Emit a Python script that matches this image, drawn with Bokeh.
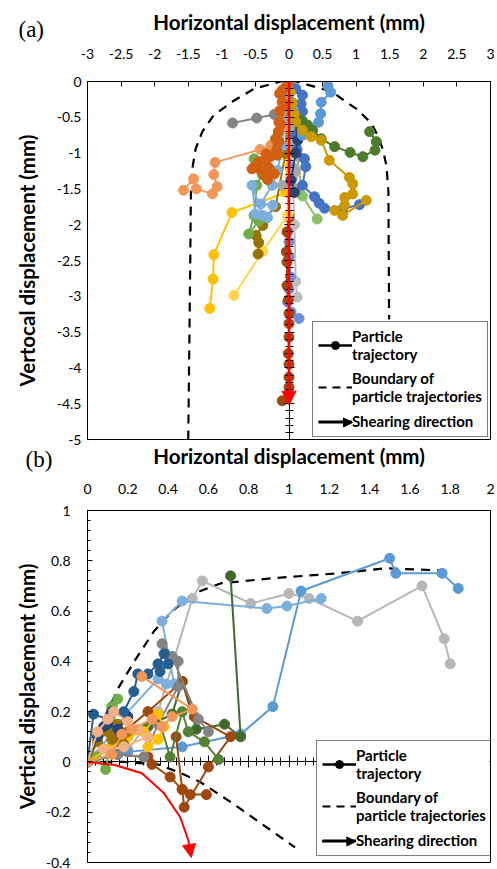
from bokeh.plotting import figure
from bokeh.models import (LinearAxis, FixedTicker, SingleIntervalTicker, Legend, LegendItem,
                          Arrow, NormalHead, Title, Range1d, CustomJSTickFormatter)
from bokeh.layouts import column
from bokeh.embed import file_html
from bokeh.resources import INLINE

FONT = "Lato"
NAN = float("nan")

# ---------------- Panel (a) data ----------------
a_xticks = [-3, -2.5, -2, -1.5, -1, -0.5, 0, 0.5, 1, 1.5, 2, 2.5, 3]
a_xtick_labels = ["-3", "-2.5", "-2", "-1.5", "-1", "-0.5", "0", "0.5", "1", "1.5", "2", "2.5", "3"]
a_yticks = [0, -0.5, -1, -1.5, -2, -2.5, -3, -3.5, -4, -4.5, -5]
a_ytick_labels = ["0", "-0.5", "-1", "-1.5", "-2", "-2.5", "-3", "-3.5", "-4", "-4.5", "-5"]

a_bound_x = [-1.5, -1.47, -1.46, -1.44, -1.39, -1.29, -1.12, -0.84, -0.52, 0, 0.63, 1.03, 1.23, 1.33, 1.4, 1.45, 1.48, 1.49, 1.5]
a_bound_y = [-5, -2.5, -1.49, -1.22, -0.94, -0.7, -0.47, -0.28, -0.1, 0.03, -0.14, -0.4, -0.59, -0.77, -0.96, -1.17, -1.54, -3.24, -5]

a_gray_x = [0, -0.03, -0.06, -0.22, -0.48, -0.84]
a_gray_y = [0, -0.22, -0.42, -0.46, -0.51, -0.58]
a_lorange_x = [0, -0.08, -0.27, -0.43, -1.1, -1.12, -1.07, -1.14, -1.38, -1.42, -1.57]
a_lorange_y = [0, -0.65, -0.89, -0.95, -1.13, -1.3, -1.47, -1.57, -1.5, -1.36, -1.52]
a_orange_x = [0, -0.05, -0.14, -0.1, -0.14, -0.15, -0.16, -0.15, -0.18, -0.34, -0.17, -0.34, -0.52, -0.44, -0.22, -0.37, -0.32]
a_orange_y = [0, -0.08, -0.17, -0.29, -0.41, -0.57, -0.7, -0.84, -0.95, -1.01, -1.03, -1.1, -1.2, -1.22, -1.29, -1.31, -1.37]
a_orange2_x = [0, -0.1, -0.08, -0.12, -0.2, -0.28, -0.45, -0.55, -0.3]
a_orange2_y = [0, -0.12, -0.35, -0.6, -0.8, -1.05, -1.12, -1.22, -1.2]
a_blue_x = [0, 0.1, 0.2, 0.18, 0.2, 0.15, 0.1, 0.12, 0.23, 0.25, 0.2, 0.38, 0.45, 0.53, 0.8, 1.05]
a_blue_y = [0, -0.1, -0.19, -0.31, -0.42, -0.55, -0.75, -0.95, -1.08, -1.19, -1.45, -1.61, -1.7, -1.77, -1.78, -1.72]
a_lblue_x = [0, 0.05, 0.2, 0.35, 0.44, 0.47, 0.48, 0.62, 0.58]
a_lblue_y = [0, -0.4, -0.75, -0.68, -0.57, -0.45, -0.29, -0.15, -0.06]
a_dgreen_x = [0, 0.05, 0.1, 0.2, 0.28, 0.35, 0.48, 0.68, 0.91, 1.1, 1.28, 1.3, 1.2]
a_dgreen_y = [0, -0.3, -0.48, -0.55, -0.61, -0.68, -0.8, -0.91, -0.99, -1.05, -0.96, -0.84, -0.7]
a_dgold_x = [0, 0.02, 0.05, 0.08, 0.1, 0.2, 0.33, 0.48, 0.6, 0.9, 0.95, 0.95, 0.83, 0.83, 0.68, 0.8, 1.15]
a_dgold_y = [0, -0.15, -0.3, -0.45, -0.56, -0.68, -0.77, -0.82, -1.1, -1.34, -1.43, -1.57, -1.62, -1.73, -1.8, -1.87, -1.66]
a_yellow_x = [0, -0.02, -0.05, -0.85, -1.12, -1.13, -1.18]
a_yellow_y = [0, -0.9, -1.55, -1.83, -2.42, -2.76, -3.17]
a_lyellow_x = [0, 0.0, -0.02, -0.39, -0.82]
a_lyellow_y = [0, -1.0, -1.87, -2.37, -2.99]
a_olive_x = [0, -0.05, -0.2, -0.35, -0.39, -0.49, -0.45, -0.46]
a_olive_y = [0, -1.0, -1.75, -1.9, -2.01, -2.15, -2.25, -2.41]
a_green_x = [0, -0.05, -0.2, -0.52, -0.4, -0.48, -0.52, -0.6, -0.45]
a_green_y = [0, -0.6, -1.0, -1.08, -1.3, -1.45, -1.87, -2.13, -1.95]
a_lgreen_x = [0, 0.04, 0.08, 0.1, 0.2, 0.42]
a_lgreen_y = [0, -0.5, -0.7, -0.9, -1.6, -1.92]
a_brown_x = [0, 0.0, 0.0, -0.03, -0.04, -0.03, -0.03, -0.01, 0.0, 0.0, 0.0, -0.01, 0.0, 0.0, 0.0, -0.1]
a_brown_y = [0, -1.0, -1.9, -2.1, -2.38, -2.52, -2.85, -3.05, -3.24, -3.38, -3.57, -3.8, -3.95, -4.13, -4.27, -4.46]
a_peri_x = [0, 0.02, -0.02, 0.0, 0.0, 0.02, 0.0, -0.02, 0.03, 0.15]
a_peri_y = [0, -1.2, -2.1, -2.24, -2.45, -2.73, -2.9, -3.08, -3.22, -3.31]
a_lgray_x = [0, 0.05, 0.08, 0.1, 0.12]
a_lgray_y = [0, -1.2, -2.0, -2.79, -3.01]
a_sky_x = [0, -0.05, -0.1, -0.17, -0.25, -0.42, -0.24, -0.32, -0.39, -0.55, -0.5]
a_sky_y = [0, -0.5, -0.9, -1.24, -1.45, -1.71, -1.73, -1.9, -1.87, -1.45, -1.85]
a_mgray_x = [0, 0.02, 0.1, 0.15, 0.1, 0.05, -0.1, 0.1]
a_mgray_y = [0, -0.6, -0.9, -1.05, -1.25, -1.35, -1.45, -1.5]
a_navy_x = [0, 0.05, 0.13, 0.1, 0.03, 0.08]
a_navy_y = [0, -0.3, -0.82, -1.0, -1.38, -1.55]

a_shear_x = [0, 0]
a_shear_y = [0, -4.52]

# ---------------- Panel (b) data ----------------
b_xticks = [0, 0.2, 0.4, 0.6, 0.8, 1, 1.2, 1.4, 1.6, 1.8, 2]
b_xtick_labels = ["0", "0.2", "0.4", "0.6", "0.8", "1", "1.2", "1.4", "1.6", "1.8", "2"]
b_yticks = [1, 0.8, 0.6, 0.4, 0.2, 0, -0.2, -0.4]
b_ytick_labels = ["1", "0.8", "0.6", "0.4", "0.2", "0", "-0.2", "-0.4"]

b_bound_up_x = [0, 0.07, 0.15, 0.24, 0.33, 0.42, 0.53, 0.66, 0.91, 1.24, 1.48, 1.81]
b_bound_up_y = [0, 0.15, 0.29, 0.41, 0.52, 0.60, 0.67, 0.71, 0.73, 0.75, 0.77, 0.76]
b_bound_lo_x = [0, 0.18, 0.35, 0.45, 0.56, 0.73, 1.03]
b_bound_lo_y = [0, 0.0, -0.01, -0.04, -0.08, -0.17, -0.34]

b_lblue1_x = [0, 0.12, 0.19, 0.35, 0.39, 0.43, 0.37, 0.47, 0.89, 0.99, 1.16]
b_lblue1_y = [0, 0.11, 0.19, 0.33, 0.31, 0.31, 0.56, 0.64, 0.61, 0.62, 0.65]
b_lblue2_x = [0, 0.2, 0.47, 0.76, 0.92, 1.06, 1.5, 1.53, 1.76, 1.84]
b_lblue2_y = [0, 0.04, 0.06, 0.11, 0.22, 0.68, 0.81, 0.75, 0.75, 0.69]
b_gray_x = [0, 0.2, 0.35, 0.43, 0.52, 0.57, 0.81, 1.0, 1.1, 1.34, 1.66, 1.77, 1.8]
b_gray_y = [0, 0.05, 0.2, 0.41, 0.65, 0.72, 0.63, 0.67, 0.65, 0.56, 0.70, 0.49, 0.39]
b_dgreen1_x = [0, 0.15, 0.3, 0.42, 0.47, 0.54, 0.68, 0.76, 0.71]
b_dgreen1_y = [0, 0.08, 0.14, 0.19, 0.32, 0.13, 0.15, 0.10, 0.74]
b_dgreen2_x = [0, 0.2, 0.35, 0.41, 0.47, 0.5, 0.58, 0.65]
b_dgreen2_y = [0, 0.1, 0.18, 0.02, 0.2, 0.12, 0.08, 0.01]
b_brown1_x = [0, 0.15, 0.3, 0.47, 0.53, 0.71, 0.6, 0.48, 0.47, 0.51, 0.59]
b_brown1_y = [0, 0.1, 0.2, 0.32, 0.18, 0.1, -0.02, -0.18, -0.11, -0.13, -0.13]
b_brown2_x = [0, 0.15, 0.3, 0.32, 0.41, 0.47, 0.44]
b_brown2_y = [0, 0.03, 0.02, -0.01, -0.06, -0.11, 0.1]
b_dblue_x = [0, 0.03, 0.1, 0.18, 0.23, 0.25, 0.3, 0.35, 0.38, 0.4, 0.36]
b_dblue_y = [0, 0.19, 0.17, 0.2, 0.28, 0.35, 0.35, 0.39, 0.43, 0.39, 0.36]
b_lorange_x = [0, 0.12, 0.17, 0.22, 0.32, 0.37, 0.42, 0.52, 0.27]
b_lorange_y = [0, 0.03, 0.11, 0.13, 0.17, 0.14, 0.18, 0.21, 0.34]
b_orange_x = [0, 0.05, 0.1, 0.13, 0.2, 0.25, 0.3, 0.18, 0.08]
b_orange_y = [0, 0.12, 0.17, 0.2, 0.16, 0.13, 0.1, 0.06, 0.05]
b_gold_x = [0, 0.1, 0.2, 0.28, 0.35, 0.38, 0.35, 0.3]
b_gold_y = [0, 0.05, 0.1, 0.12, 0.19, 0.14, 0.09, 0.06]
b_olive_x = [0, 0.05, 0.1, 0.15, 0.2, 0.18, 0.12]
b_olive_y = [0, 0.08, 0.12, 0.15, 0.12, 0.07, 0.09]
b_green_x = [0, 0.05, 0.1, 0.12, 0.15, 0.09, 0.04]
b_green_y = [0, 0.1, 0.15, 0.22, 0.25, -0.03, 0.02]
b_dgray_x = [0, 0.15, 0.28, 0.35, 0.45, 0.45, 0.37, 0.42, 0.55, 0.6]
b_dgray_y = [0, 0.03, 0.02, 0.15, 0.3, 0.4, 0.47, 0.42, 0.17, 0.12]
b_navy_x = [0, 0.05, 0.1, 0.15, 0.2, 0.12, 0.08]
b_navy_y = [0, 0.1, 0.15, 0.13, 0.18, 0.2, 0.14]

b_shear_x = [0, 0.135, 0.27, 0.38, 0.46, 0.5, 0.515]
b_shear_y = [0, -0.012, -0.045, -0.125, -0.22, -0.31, -0.38]

legend_labels = ["Particle\ntrajectory", "Boundary of\nparticle trajectories", "Shearing direction"]
x_title = "Horizontal displacement (mm)"

# ---------------- styles (kept apart from data) ----------------
a_series = [
    (a_lgray_x, a_lgray_y, "#BDBDBD"), (a_peri_x, a_peri_y, "#6F8FD6"), (a_brown_x, a_brown_y, "#9E480E"),
    (a_lyellow_x, a_lyellow_y, "#FFD54F"), (a_yellow_x, a_yellow_y, "#FFC000"), (a_olive_x, a_olive_y, "#997300"),
    (a_green_x, a_green_y, "#70AD47"), (a_lgreen_x, a_lgreen_y, "#8CC168"), (a_sky_x, a_sky_y, "#7CAFDD"),
    (a_mgray_x, a_mgray_y, "#A5A5A5"), (a_blue_x, a_blue_y, "#4472C4"), (a_navy_x, a_navy_y, "#264478"),
    (a_lblue_x, a_lblue_y, "#5B9BD5"), (a_dgreen_x, a_dgreen_y, "#4E7A2E"), (a_dgold_x, a_dgold_y, "#CC9A00"),
    (a_gray_x, a_gray_y, "#848484"), (a_lorange_x, a_lorange_y, "#F1975A"), (a_orange2_x, a_orange2_y, "#D26012"),
    (a_orange_x, a_orange_y, "#D26012"),
]
b_series = [
    (b_gray_x, b_gray_y, "#B7B7B7"), (b_lblue2_x, b_lblue2_y, "#5B9BD5"), (b_lblue1_x, b_lblue1_y, "#7CAFDD"),
    (b_dgreen1_x, b_dgreen1_y, "#43682B"), (b_brown1_x, b_brown1_y, "#9E480E"), (b_brown2_x, b_brown2_y, "#9E480E"),
    (b_dgray_x, b_dgray_y, "#848484"), (b_dgreen2_x, b_dgreen2_y, "#548235"), (b_green_x, b_green_y, "#70AD47"),
    (b_gold_x, b_gold_y, "#FFC000"), (b_olive_x, b_olive_y, "#997300"), (b_navy_x, b_navy_y, "#264478"),
    (b_dblue_x, b_dblue_y, "#255E91"), (b_orange_x, b_orange_y, "#F4B183"), (b_lorange_x, b_lorange_y, "#F1975A"),
]

LEG_PAD = 5
LEG_GLYPH_W = 34
LEG_W = 174
LEG_H = 118


def base_style(p):
    p.outline_line_color = "black"
    p.outline_line_width = 1
    p.outline_line_alpha = 1
    p.xgrid.visible = False
    p.ygrid.visible = False
    p.background_fill_color = "white"
    p.border_fill_color = "white"


def style_title_text(ax, label, label_standoff):
    ax.axis_label = label
    ax.axis_label_text_font = FONT
    ax.axis_label_text_font_style = "bold"
    ax.axis_label_text_font_size = "20.5px"
    ax.axis_label_text_color = "black"
    ax.axis_label_standoff = label_standoff


def style_axis(ax, label, ticks, labels, tick_in, standoff, label_standoff):
    ax.ticker = FixedTicker(ticks=ticks)
    ax.major_label_overrides = {t: s for t, s in zip(ticks, labels)}
    if label:
        style_title_text(ax, label, label_standoff)
    else:
        ax.axis_label = None
    ax.major_label_text_font = FONT
    ax.major_label_text_font_size = "14px"
    ax.major_label_text_color = "black"
    ax.major_label_standoff = standoff
    ax.major_tick_in = tick_in
    ax.major_tick_out = 0
    ax.minor_tick_in = 0
    ax.minor_tick_out = 0
    ax.axis_line_color = "black"
    ax.major_tick_line_color = "black"


def add_legend(p, loc, frame_w, frame_h):
    xr, yr = p.x_range, p.y_range
    to_x = lambda px: xr.start + (xr.end - xr.start) * px / frame_w
    to_y = lambda py_: yr.start + (yr.end - yr.start) * py_ / frame_h
    # white backing of the legend box (drawn above the trajectories)
    p.quad(left=[to_x(loc[0] + 1)], right=[to_x(loc[0] + LEG_W)],
           bottom=[to_y(loc[1] + 1)], top=[to_y(loc[1] + LEG_H)],
           fill_color="white", line_alpha=0)
    r1 = p.line([NAN], [NAN], line_color="black", line_width=2.5)
    r1b = p.scatter([NAN], [NAN], size=10, color="black")
    r2 = p.line([NAN], [NAN], line_color="black", line_width=2, line_dash="8 6")
    r3 = p.line([NAN], [NAN], line_color="black", line_width=2)
    leg = Legend(items=[LegendItem(label=legend_labels[0], renderers=[r1, r1b]),
                        LegendItem(label=legend_labels[1], renderers=[r2]),
                        LegendItem(label=legend_labels[2], renderers=[r3])],
                 location=loc)
    leg.label_text_font = FONT
    leg.label_text_font_style = "bold"
    leg.label_text_font_size = "15px"
    leg.label_text_color = "black"
    leg.label_standoff = 0
    leg.glyph_width = LEG_GLYPH_W
    leg.glyph_height = 20
    leg.spacing = 6
    leg.padding = LEG_PAD
    leg.margin = 0
    leg.border_line_color = "black"
    leg.border_line_width = 1
    leg.background_fill_alpha = 0
    leg.label_text_line_height = 1.3
    p.add_layout(leg)
    # arrowhead for the "Shearing direction" entry, converted from legend pixels to data units
    px0 = loc[0] + LEG_PAD + 1
    px1 = loc[0] + LEG_PAD + LEG_GLYPH_W + 1
    py = loc[1] + LEG_PAD + 10
    p.add_layout(Arrow(end=NormalHead(size=9, fill_color="black", line_color="black"),
                       x_start=to_x(px0), y_start=to_y(py), x_end=to_x(px1), y_end=to_y(py),
                       line_color="black", line_width=2))


# ---------------- Panel (a) ----------------
p1 = figure(width=497, height=476, x_range=Range1d(-3, 3), y_range=Range1d(-5, 0),
            x_axis_location="above", output_backend="svg", toolbar_location=None,
            min_border_left=87, min_border_right=7, min_border_top=81, min_border_bottom=37)
base_style(p1)
p1.title = Title(text="(a)", align="left", offset=-69, standoff=-70, vertical_align="bottom",
                 text_font="Liberation Serif", text_font_size="23px", text_font_style="normal",
                 text_color="black")
style_axis(p1.xaxis[0], x_title, a_xticks, a_xtick_labels, 5, 23, 12)
style_axis(p1.yaxis[0], "Vertocal displacement (mm)", a_yticks, a_ytick_labels, 0, 6, 15)

cax1 = LinearAxis(fixed_location=0, ticker=SingleIntervalTicker(interval=0.5, num_minor_ticks=5),
                  formatter=CustomJSTickFormatter(code="return ''"),
                  major_tick_in=5, major_tick_out=5, minor_tick_in=4, minor_tick_out=4,
                  major_label_standoff=0, axis_line_color="black")
p1.add_layout(cax1, "left")

# title row of panel (b), carried by an empty axis under panel (a)
bx_title_axis = LinearAxis(ticker=FixedTicker(ticks=[]), major_label_standoff=0,
                           major_tick_in=0, major_tick_out=0, minor_tick_in=0, minor_tick_out=0,
                           axis_line_alpha=0)
style_title_text(bx_title_axis, x_title, 4)
p1.add_layout(bx_title_axis, "below")
p1.add_layout(Title(text="(b)", align="left", offset=-62, standoff=-47, vertical_align="top",
                    text_font="Liberation Serif", text_font_size="23px", text_font_style="normal",
                    text_color="black"), "below")

p1.line(a_bound_x, a_bound_y, line_color="black", line_width=2.2, line_dash="9 7")
for xs, ys, c in a_series:
    p1.line(xs, ys, line_color=c, line_width=2)
    p1.scatter(xs, ys, size=10, color=c)

add_legend(p1, (225, 2), 403, 358)
p1.add_layout(Arrow(end=NormalHead(size=14, fill_color="red", line_color="red"),
                    x_start=a_shear_x[0], y_start=a_shear_y[0], x_end=a_shear_x[1], y_end=a_shear_y[1],
                    line_color="red", line_width=2.5))

# ---------------- Panel (b) ----------------
p2 = figure(width=497, height=393, x_range=Range1d(0, 2), y_range=Range1d(-0.4, 1),
            x_axis_location="above", output_backend="svg", toolbar_location=None,
            min_border_left=86, min_border_right=7, min_border_top=34, min_border_bottom=7)
base_style(p2)
style_axis(p2.xaxis[0], None, b_xticks, b_xtick_labels, 0, 17, 0)
style_axis(p2.yaxis[0], "Vertical displacement (mm)", b_yticks, b_ytick_labels, 5, 17, 4)
p2.yaxis[0].ticker = FixedTicker(ticks=b_yticks, minor_ticks=[round(-0.4 + 0.04 * i, 2) for i in range(36)])
p2.yaxis[0].minor_tick_in = 3

cax2 = LinearAxis(fixed_location=0, ticker=SingleIntervalTicker(interval=0.2, num_minor_ticks=5),
                  formatter=CustomJSTickFormatter(code="return ''"),
                  major_tick_in=6, major_tick_out=6, minor_tick_in=4, minor_tick_out=4,
                  major_label_standoff=0, axis_line_color="black", level="underlay")
p2.add_layout(cax2, "below")

p2.line(b_bound_up_x, b_bound_up_y, line_color="black", line_width=2.2, line_dash="9 7")
p2.line(b_bound_lo_x, b_bound_lo_y, line_color="black", line_width=2.2, line_dash="9 7")
for xs, ys, c in b_series:
    p2.line(xs, ys, line_color=c, line_width=2)
    p2.scatter(xs, ys, size=10, color=c)

p2.line(b_shear_x[:-1], b_shear_y[:-1], line_color="red", line_width=2)
add_legend(p2, (229, 6), 404, 352)
p2.add_layout(Arrow(end=NormalHead(size=13, fill_color="red", line_color="red"),
                    x_start=b_shear_x[-2], y_start=b_shear_y[-2], x_end=b_shear_x[-1], y_end=b_shear_y[-1],
                    line_color="red", line_width=2))

layout = column(p1, p2, spacing=0)
open("out.html", "w").write(file_html(layout, INLINE))
